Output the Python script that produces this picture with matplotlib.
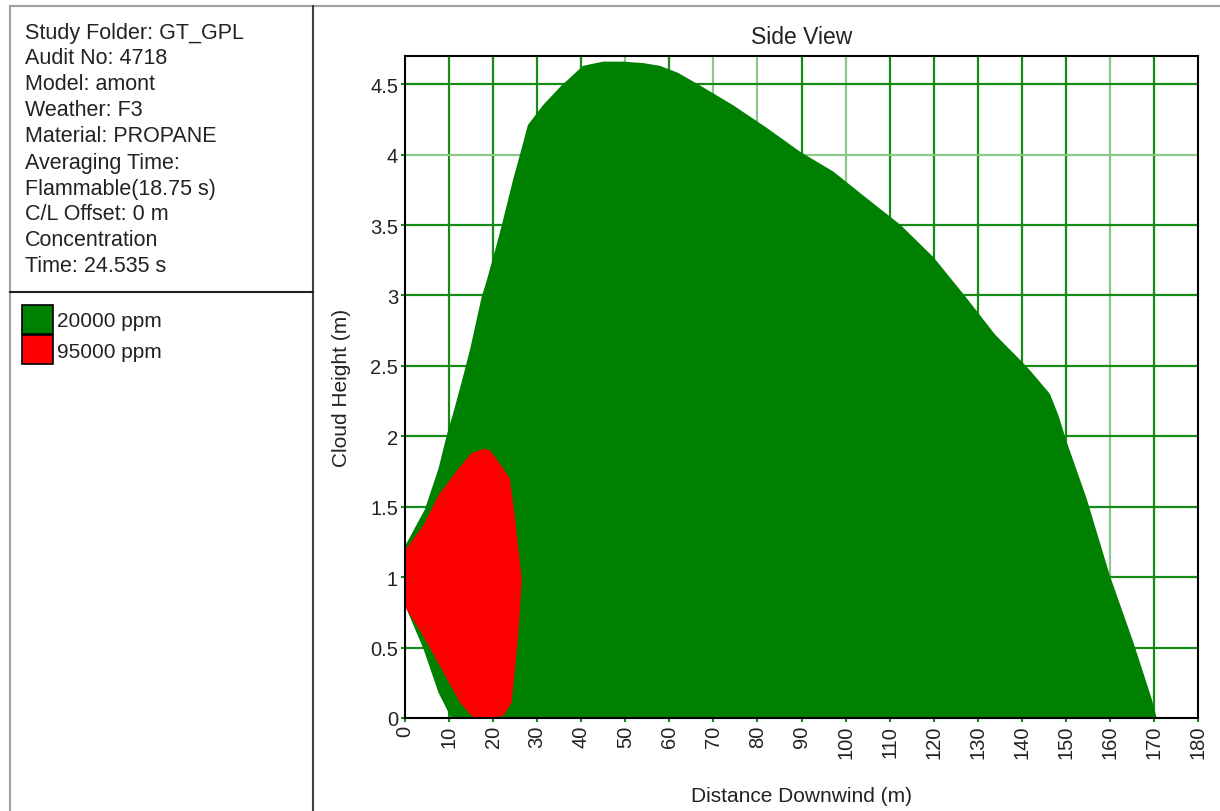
import numpy as np
import matplotlib
matplotlib.use('Agg')
import matplotlib.pyplot as plt
from matplotlib.lines import Line2D
from matplotlib.patches import Rectangle

plt.rcParams['font.family'] = ['Liberation Sans', 'DejaVu Sans']

# cloud outline, 20000 ppm contour (distance m, height m)
green_x = [10.5, 7.6, 4.2, 0.0, 0.0, 4.5, 7.6, 9.5, 11.0, 12.9, 14.8, 17.4, 18.5,
           20.8, 21.9, 24.6, 26.1, 27.9, 31.3, 35.2, 40.4, 45.0, 49.5, 54.0, 57.9,
           62.0, 67.0, 74.5, 82.1, 89.7, 97.2, 104.0, 112.5, 120.0, 127.0, 134.0,
           140.0, 141.8, 144.8, 146.4, 148.3, 150.2, 154.7, 160.0, 165.3, 169.5, 170.6]
green_y = [0.0, 0.18, 0.49, 0.80, 1.22, 1.48, 1.77, 2.01, 2.17, 2.39, 2.62, 2.99, 3.10,
           3.36, 3.49, 3.83, 4.00, 4.21, 4.35, 4.48, 4.63, 4.66, 4.66, 4.65, 4.63,
           4.58, 4.49, 4.35, 4.19, 4.02, 3.88, 3.71, 3.50, 3.27, 3.00, 2.72,
           2.53, 2.47, 2.36, 2.30, 2.15, 1.96, 1.56, 1.01, 0.54, 0.135, 0.0]

# 95000 ppm contour
red_x = [0.0, 0.0, 4.2, 7.6, 12.1, 15.1, 17.8, 19.3, 21.2, 23.8, 25.0, 26.5, 25.7,
         24.2, 22.5, 20.0, 15.5, 12.5, 9.5, 4.2]
red_y = [0.79, 1.19, 1.37, 1.58, 1.77, 1.88, 1.91, 1.90, 1.82, 1.70, 1.41, 0.99, 0.58,
         0.11, 0.02, 0.0, 0.0, 0.11, 0.28, 0.58]

info_lines = ['Study Folder: GT_GPL', 'Audit No: 4718', 'Model: amont', 'Weather: F3',
              'Material: PROPANE', 'Averaging Time:', 'Flammable(18.75 s)',
              'C/L Offset: 0 m', 'Concentration', 'Time: 24.535 s']
legend_labels = ['20000 ppm', '95000 ppm']
legend_colors = ['#008000', '#ff0000']

xticks = np.arange(0, 181, 10)
yticks = np.arange(0, 4.51, 0.5)
light_x = [50, 70, 80, 100, 160]
light_y = [4.0]

W, H = 1220, 812
fig = plt.figure(figsize=(12.2, 8.12), dpi=100)
fig.patch.set_facecolor('white')


def px(x, y):
    return x / W, 1 - y / H


# frame around the page
for (x0, y0), (x1, y1), c in [((10, 7), (1220, 7), '#a0a0a0'),
                              ((10, 7), (10, 812), '#a0a0a0'),
                              ((313, 7), (313, 812), '#404040'),
                              ((10, 293), (313, 293), '#202020')]:
    a, b = px(x0, y0)
    c2, d = px(x1, y1)
    fig.add_artist(Line2D([a, c2], [b, d], color=c, lw=1.5))

# info block
for i, t in enumerate(info_lines):
    fx, fy = px(25, 33 + i * 26)
    fig.text(fx, fy, t, fontsize=15.5, color='#222222', va='center', ha='left')

# legend block
for i, (lab, col) in enumerate(zip(legend_labels, legend_colors)):
    x0, y0 = px(22, 335 + i * 30)
    fig.add_artist(Rectangle((x0, y0), 31 / W, 29 / H, facecolor=col,
                             edgecolor='black', lw=1.2, transform=fig.transFigure))
    fx, fy = px(57, 322 + i * 30)
    fig.text(fx, fy, lab, fontsize=15, color='#222222', va='center', ha='left')

# plot
l, r, t, b = 405, 1198, 57, 719
ax = fig.add_axes([l / W, 1 - b / H, (r - l) / W, (b - t) / H])
ax.set_xlim(0, 180)
ax.set_ylim(0, 4.7)

for xv in xticks[1:-1]:
    ax.axvline(xv, color='#8cc78c' if xv in light_x else '#168c16', lw=1.6, zorder=1)
for yv in yticks[1:]:
    ax.axhline(yv, color='#8cc78c' if yv in light_y else '#168c16', lw=1.6, zorder=1)

ax.fill(green_x, green_y, color='#008000', lw=0, zorder=2)
ax.fill(red_x, red_y, color='#ff0000', lw=0, zorder=3)

ax.set_xticks(xticks)
ax.set_xticklabels([str(v) for v in xticks], rotation=90, fontsize=14.5, color='#222222')
ax.set_yticks(yticks)
ax.set_yticklabels(['0'] + ['%g' % v for v in yticks[1:]], fontsize=14.5, color='#222222')
ax.tick_params(axis='both', direction='out', length=3, width=1.5, color='#168c16', pad=2)

for s in ax.spines.values():
    s.set_color('black')
    s.set_linewidth(1.5)
    s.set_zorder(5)

ax.set_title('Side View', fontsize=16.5, color='#222222', pad=9)
ax.set_xlabel('Distance Downwind (m)', fontsize=15, color='#222222', labelpad=20)
ax.set_ylabel('Cloud Height (m)', fontsize=15, color='#222222', labelpad=14)

fig.savefig('out.png', dpi=100)
